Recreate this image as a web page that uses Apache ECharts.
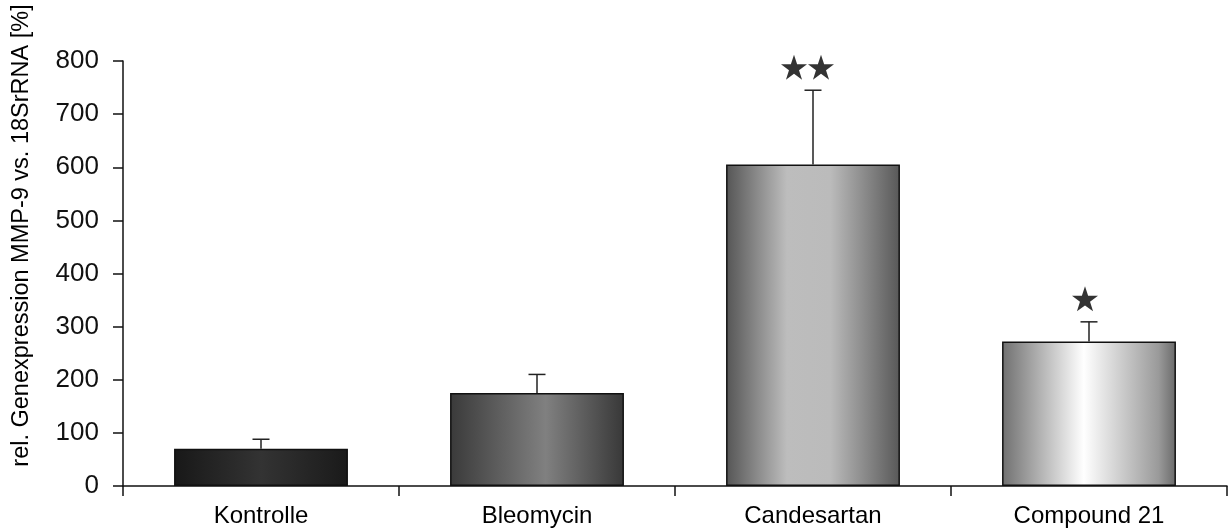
<!DOCTYPE html>
<html>
<head>
<meta charset="utf-8">
<script src="https://cdn.jsdelivr.net/npm/echarts@6/dist/echarts.min.js"></script>
<style>
html,body{margin:0;padding:0;background:#fff;}
#chart{width:1229px;height:531px;}
</style>
</head>
<body>
<div id="chart"></div>
<script>
// ---- data ----
var categories = ['Kontrolle', 'Bleomycin', 'Candesartan', 'Compound 21'];
var means = [70, 175, 605, 272];
var errors = [18, 35, 140, 37];
var significance = [0, 0, 2, 1]; // number of stars
var yTicks = [0, 100, 200, 300, 400, 500, 600, 700, 800];
var yTitle = 'rel. Genexpression MMP-9 vs. 18SrRNA [%]';

// ---- styles ----
var barGradients = [
  [[0, '#181818'], [0.5, '#333333'], [1, '#1a1a1a']],
  [[0, '#3a3a3a'], [0.55, '#808080'], [1, '#383838']],
  [[0, '#555555'], [0.35, '#bdbdbd'], [0.6, '#bbbbbb'], [1, '#585858']],
  [[0, '#707070'], [0.47, '#ffffff'], [0.9, '#9a9a9a'], [1, '#6a6a6a']]
];
var FONT = "'Liberation Sans', Arial, Helvetica, sans-serif";

function grad(stops) {
  return new echarts.graphic.LinearGradient(0, 0, 1, 0,
    stops.map(function (s) { return { offset: s[0], color: s[1] }; }));
}

var barData = means.map(function (v, i) {
  return { value: v, itemStyle: { color: grad(barGradients[i]) } };
});
var errData = means.map(function (v, i) { return [i, v, v + errors[i]]; });

var starPath = 'path://M50,0 L61.8,35.3 L98.9,35.3 L68.9,57.2 L80.3,92.7 L50,70.6 L19.7,92.7 L31.1,57.2 L1.1,35.3 L38.2,35.3 Z';
var starData = [];
significance.forEach(function (n, i) {
  if (n === 1) {
    starData.push({ value: [i, means[i] + errors[i]], symbolOffset: [-4, -23] });
  } else if (n === 2) {
    starData.push({ value: [i, means[i] + errors[i]], symbolOffset: [-19, -23] });
    starData.push({ value: [i, means[i] + errors[i]], symbolOffset: [8, -23] });
  }
});

var chart = echarts.init(document.getElementById('chart'), null, { renderer: 'canvas' });
chart.setOption({
  animation: false,
  backgroundColor: '#ffffff',
  textStyle: { fontFamily: FONT },
  grid: { left: 123, right: 2, top: 61, bottom: 45, containLabel: false },
  xAxis: {
    type: 'category',
    data: categories,
    boundaryGap: true,
    axisLine: { lineStyle: { color: '#111', width: 1.5 } },
    axisTick: { show: true, inside: false, length: 10, lineStyle: { color: '#111', width: 1.5 } },
    axisLabel: { color: '#000', fontSize: 24, fontFamily: FONT, margin: 18 },
    splitLine: { show: false }
  },
  yAxis: {
    type: 'value',
    min: yTicks[0],
    max: yTicks[yTicks.length - 1],
    interval: yTicks[1] - yTicks[0],
    name: yTitle,
    nameLocation: 'middle',
    nameGap: 89,
    nameRotate: 90,
    nameTextStyle: { color: '#000', fontSize: 23.5, fontFamily: FONT, padding: [0, 0, 0, 76] },
    axisLine: { show: true, lineStyle: { color: '#111', width: 1.5 } },
    axisTick: { show: true, inside: false, length: 10, lineStyle: { color: '#111', width: 1.5 } },
    axisLabel: { color: '#111', fontSize: 26, fontFamily: FONT, margin: 24 },
    splitLine: { show: false }
  },
  series: [
    {
      type: 'bar',
      data: barData,
      barCategoryGap: '37%',
      itemStyle: { borderColor: '#111', borderWidth: 1.5 },
      z: 2
    },
    {
      type: 'custom',
      data: errData,
      z: 3,
      renderItem: function (params, api) {
        var top = api.coord([api.value(0), api.value(2)]);
        var base = api.coord([api.value(0), api.value(1)]);
        var half = 8.5;
        return {
          type: 'group',
          children: [
            { type: 'line', shape: { x1: top[0], y1: top[1], x2: base[0], y2: base[1] },
              style: { stroke: '#222', lineWidth: 1.5 } },
            { type: 'line', shape: { x1: top[0] - half, y1: top[1], x2: top[0] + half, y2: top[1] },
              style: { stroke: '#222', lineWidth: 1.5 } }
          ]
        };
      }
    },
    {
      type: 'scatter',
      data: starData,
      symbol: starPath,
      symbolSize: [26, 25],
      itemStyle: { color: '#000' },
      z: 4
    }
  ]
});
</script>
</body>
</html>
